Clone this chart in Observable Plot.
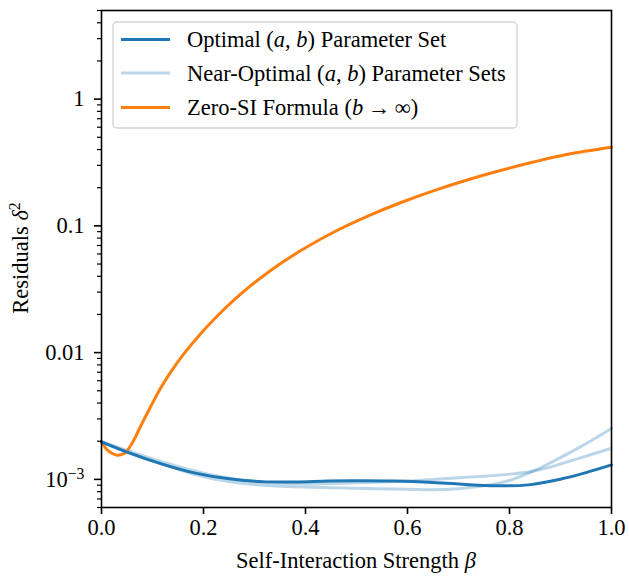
<!DOCTYPE html>
<html>
<head>
<meta charset="utf-8">
<script src="https://cdn.jsdelivr.net/npm/d3@7"></script>
<script src="https://cdn.jsdelivr.net/npm/@observablehq/plot@0.6"></script>
<style>
  html, body { margin: 0; padding: 0; background: white; }
  svg { display: block; }
</style>
</head>
<body>
<div id="chart"></div>
<script>
// ---- data ----
const betaZero = [0, 0.01, 0.021, 0.031, 0.04, 0.047, 0.052, 0.057, 0.065, 0.076, 0.096, 0.116, 0.135, 0.161, 0.194, 0.227, 0.259, 0.292, 0.325, 0.357, 0.39, 0.455, 0.521, 0.586, 0.652, 0.717, 0.782, 0.847, 0.912, 1.0];
const zeroSI   = [1.98e-3, 1.73e-3, 1.6e-3, 1.55e-3, 1.575e-3, 1.63e-3, 1.72e-3, 1.84e-3, 2.1e-3, 2.59e-3, 3.72e-3, 5.25e-3, 6.95e-3, 9.72e-3, 0.01403, 0.01946, 0.02583, 0.03357, 0.04246, 0.05224, 0.06353, 0.0891, 0.1188, 0.1521, 0.1896, 0.2298, 0.273, 0.3186, 0.3657, 0.4171];

const betaOpt = [0, 0.054, 0.119, 0.184, 0.25, 0.315, 0.38, 0.446, 0.511, 0.576, 0.642, 0.707, 0.773, 0.838, 0.903, 0.95, 1.0];
const optimal = [1.98e-3, 1.62e-3, 1.32e-3, 1.12e-3, 1.01e-3, 0.96e-3, 0.955e-3, 0.97e-3, 0.975e-3, 0.97e-3, 0.95e-3, 0.915e-3, 0.89e-3, 0.905e-3, 1.01e-3, 1.13e-3, 1.3e-3];

const betaNear = [0, 0.1, 0.2, 0.3, 0.4, 0.5, 0.6, 0.65, 0.7, 0.75, 0.8, 0.84, 0.88, 0.92, 0.96, 1.0];
const nearA = [1.98e-3, 1.4e-3, 1.05e-3, 0.91e-3, 0.87e-3, 0.85e-3, 0.835e-3, 0.83e-3, 0.845e-3, 0.89e-3, 0.98e-3, 1.13e-3, 1.35e-3, 1.64e-3, 2.02e-3, 2.52e-3];
const nearB = [1.98e-3, 1.45e-3, 1.12e-3, 0.96e-3, 0.92e-3, 0.94e-3, 0.97e-3, 1.0e-3, 1.03e-3, 1.06e-3, 1.1e-3, 1.15e-3, 1.25e-3, 1.4e-3, 1.57e-3, 1.76e-3];

const xTicks = [0, 0.2, 0.4, 0.6, 0.8, 1.0];
const xTickLabels = ["0.0", "0.2", "0.4", "0.6", "0.8", "1.0"];
const yTicks = [1, 0.1, 0.01, 0.001];
const yTickLabels = ["1", "0.1", "0.01", "10^-3"];

// ---- build tables ----
const toRows = (xs, ys) => xs.map((x, i) => ({x, y: ys[i]}));
const zeroRows = toRows(betaZero, zeroSI);
const optRows = toRows(betaOpt, optimal);
const nearARows = toRows(betaNear, nearA);
const nearBRows = toRows(betaNear, nearB);

const yDomain = [6e-4, 5];
const yMinor = [];
for (let e = -4; e <= 0; e++) for (let m = 2; m <= 9; m++) {
  const v = m * Math.pow(10, e);
  if (v >= yDomain[0] && v <= yDomain[1]) yMinor.push(v);
}

const BLUE = "#1f77b4", ORANGE = "#ff7f0e";
const FONT = "'Liberation Serif', 'Times New Roman', serif";
const FS = 22.5;
const CURVE = "catmull-rom";

const chart = Plot.plot({
  width: 629,
  height: 576,
  marginLeft: 101,
  marginRight: 18,
  marginTop: 10,
  marginBottom: 69,
  style: {fontFamily: FONT, fontSize: FS + "px", background: "white", color: "black"},
  x: {domain: [0, 1]},
  y: {type: "log", domain: yDomain},
  marks: [
    Plot.line(nearARows, {x: "x", y: "y", stroke: BLUE, strokeOpacity: 0.3, strokeWidth: 3, curve: CURVE}),
    Plot.line(nearBRows, {x: "x", y: "y", stroke: BLUE, strokeOpacity: 0.3, strokeWidth: 3, curve: CURVE}),
    Plot.line(zeroRows, {x: "x", y: "y", stroke: ORANGE, strokeWidth: 3, curve: CURVE}),
    Plot.line(optRows, {x: "x", y: "y", stroke: BLUE, strokeWidth: 3, curve: CURVE}),
    Plot.frame({stroke: "black", strokeWidth: 1.6}),
    Plot.axisX({ticks: xTicks, tickFormat: d => xTickLabels[xTicks.indexOf(d)], tickSize: 7, tickPadding: 5, strokeWidth: 1.6, label: null, fontSize: FS}),
    Plot.axisY({ticks: yMinor, tickFormat: () => "", tickSize: 4, strokeWidth: 1.2, label: null}),
    Plot.axisY({ticks: yTicks, tickFormat: d => yTickLabels[yTicks.indexOf(d)], tickSize: 7, tickPadding: 10, strokeWidth: 1.6, label: null, fontSize: FS})
  ]
});

document.getElementById("chart").appendChild(chart);

const svg = d3.select(chart);
// superscript label 10^-3
svg.selectAll("text").each(function() {
  const t = d3.select(this);
  if (t.text() === "10^-3") {
    t.text(null);
    t.append("tspan").text("10");
    t.append("tspan").attr("font-size", "0.7em").attr("dy", "-0.5em").text("\u22123");
  }
});

// axis labels
const xl = svg.append("text")
  .attr("x", 356).attr("y", 568)
  .attr("text-anchor", "middle")
  .attr("font-family", FONT).attr("font-size", FS).attr("fill", "black");
xl.append("tspan").text("Self-Interaction Strength ");
xl.append("tspan").attr("font-style", "italic").text("\u03B2");

const yl = svg.append("text")
  .attr("transform", "translate(28,258) rotate(-90)")
  .attr("text-anchor", "middle")
  .attr("font-family", FONT).attr("font-size", FS).attr("fill", "black");
yl.append("tspan").text("Residuals ");
yl.append("tspan").attr("font-style", "italic").text("\u03B4");
yl.append("tspan").attr("font-size", "0.7em").attr("dy", "-0.5em").text("2");

// legend
const lg = svg.append("g");
lg.append("rect")
  .attr("x", 113).attr("y", 22).attr("width", 404).attr("height", 106)
  .attr("rx", 4).attr("fill", "white").attr("fill-opacity", 0.8)
  .attr("stroke", "#d5d5d5").attr("stroke-width", 1.4);

const legendItems = [
  {stroke: BLUE, opacity: 1, parts: [["Optimal (", false], ["a", true], [", ", false], ["b", true], [") Parameter Set", false]]},
  {stroke: BLUE, opacity: 0.3, parts: [["Near-Optimal (", false], ["a", true], [", ", false], ["b", true], [") Parameter Sets", false]]},
  {stroke: ORANGE, opacity: 1, parts: [["Zero-SI Formula (", false], ["b", true], ["\u2009\u2192\u2009\u221E)", false]]}
];
const rowY = [39.5, 73, 107.5];
legendItems.forEach((item, i) => {
  lg.append("line")
    .attr("x1", 121).attr("x2", 170).attr("y1", rowY[i]).attr("y2", rowY[i])
    .attr("stroke", item.stroke).attr("stroke-opacity", item.opacity).attr("stroke-width", 3);
  const t = lg.append("text")
    .attr("x", 187).attr("y", rowY[i] + 7.5)
    .attr("text-anchor", "start")
    .attr("font-family", FONT).attr("font-size", FS).attr("fill", "black");
  item.parts.forEach(([s, it]) => {
    const sp = t.append("tspan").text(s);
    if (it) sp.attr("font-style", "italic");
  });
});
</script>
</body>
</html>
